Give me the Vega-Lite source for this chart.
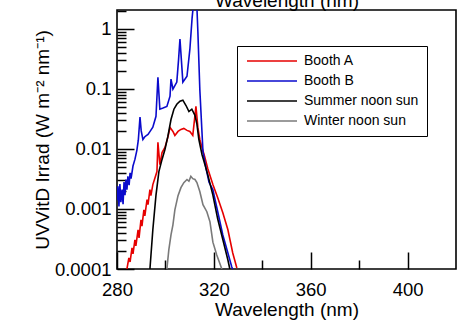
{
  "$schema": "https://vega.github.io/schema/vega-lite/v6.json",
  "width": 339,
  "height": 259,
  "autosize": {"type": "none"},
  "padding": {"left": 117, "top": 10, "right": 17, "bottom": 57},
  "background": "white",
  "config": {
    "view": {"stroke": "black", "strokeWidth": 1.6},
    "font": "Liberation Sans",
    "axis": {"grid": false, "domain": false, "tickColor": "black", "tickWidth": 1.5, "labelColor": "black", "titleColor": "black", "titleFontWeight": "normal", "labelFont": "Liberation Sans", "titleFont": "Liberation Sans"}
  },
  "data": {"values": [
    {"s": "Booth A", "w": 284.1, "v": 0.0001},
    {"s": "Booth A", "w": 284.9, "v": 0.000153},
    {"s": "Booth A", "w": 285.4, "v": 0.000131},
    {"s": "Booth A", "w": 286.2, "v": 0.000224},
    {"s": "Booth A", "w": 286.6, "v": 0.000178},
    {"s": "Booth A", "w": 287.4, "v": 0.000305},
    {"s": "Booth A", "w": 287.8, "v": 0.000243},
    {"s": "Booth A", "w": 288.7, "v": 0.00045},
    {"s": "Booth A", "w": 289.1, "v": 0.00033},
    {"s": "Booth A", "w": 289.9, "v": 0.00066},
    {"s": "Booth A", "w": 290.3, "v": 0.00052},
    {"s": "Booth A", "w": 291.1, "v": 0.00097},
    {"s": "Booth A", "w": 291.5, "v": 0.00077},
    {"s": "Booth A", "w": 292.4, "v": 0.00143},
    {"s": "Booth A", "w": 292.8, "v": 0.00118},
    {"s": "Booth A", "w": 293.6, "v": 0.0021},
    {"s": "Booth A", "w": 294.0, "v": 0.00167},
    {"s": "Booth A", "w": 294.8, "v": 0.00255},
    {"s": "Booth A", "w": 295.7, "v": 0.00333},
    {"s": "Booth A", "w": 296.5, "v": 0.0042},
    {"s": "Booth A", "w": 296.9, "v": 0.0129},
    {"s": "Booth A", "w": 297.7, "v": 0.0055},
    {"s": "Booth A", "w": 298.6, "v": 0.0087},
    {"s": "Booth A", "w": 299.8, "v": 0.0106},
    {"s": "Booth A", "w": 301.0, "v": 0.0156},
    {"s": "Booth A", "w": 301.9, "v": 0.0229},
    {"s": "Booth A", "w": 303.1, "v": 0.0196},
    {"s": "Booth A", "w": 303.9, "v": 0.0168},
    {"s": "Booth A", "w": 305.2, "v": 0.0196},
    {"s": "Booth A", "w": 306.4, "v": 0.0212},
    {"s": "Booth A", "w": 307.6, "v": 0.022},
    {"s": "Booth A", "w": 308.9, "v": 0.0204},
    {"s": "Booth A", "w": 310.1, "v": 0.0196},
    {"s": "Booth A", "w": 311.3, "v": 0.0168},
    {"s": "Booth A", "w": 312.6, "v": 0.0514},
    {"s": "Booth A", "w": 313.4, "v": 0.0229},
    {"s": "Booth A", "w": 314.2, "v": 0.0144},
    {"s": "Booth A", "w": 315.1, "v": 0.0106},
    {"s": "Booth A", "w": 316.3, "v": 0.0072},
    {"s": "Booth A", "w": 317.5, "v": 0.0047},
    {"s": "Booth A", "w": 319.6, "v": 0.00255},
    {"s": "Booth A", "w": 321.6, "v": 0.00154},
    {"s": "Booth A", "w": 323.7, "v": 0.000865},
    {"s": "Booth A", "w": 325.8, "v": 0.00045},
    {"s": "Booth A", "w": 327.8, "v": 0.000185},
    {"s": "Booth A", "w": 329.5, "v": 0.000104},
    {"s": "Booth B", "w": 280.0, "v": 0.0014},
    {"s": "Booth B", "w": 280.4, "v": 0.0024},
    {"s": "Booth B", "w": 280.8, "v": 0.0011},
    {"s": "Booth B", "w": 281.2, "v": 0.0026},
    {"s": "Booth B", "w": 281.6, "v": 0.0013},
    {"s": "Booth B", "w": 282.1, "v": 0.0021},
    {"s": "Booth B", "w": 282.5, "v": 0.0012},
    {"s": "Booth B", "w": 282.9, "v": 0.0028},
    {"s": "Booth B", "w": 283.3, "v": 0.0017},
    {"s": "Booth B", "w": 283.7, "v": 0.0031},
    {"s": "Booth B", "w": 284.1, "v": 0.0021},
    {"s": "Booth B", "w": 284.5, "v": 0.0035},
    {"s": "Booth B", "w": 285.0, "v": 0.0025},
    {"s": "Booth B", "w": 285.4, "v": 0.004},
    {"s": "Booth B", "w": 285.8, "v": 0.0032},
    {"s": "Booth B", "w": 286.6, "v": 0.0052},
    {"s": "Booth B", "w": 287.4, "v": 0.0067},
    {"s": "Booth B", "w": 288.2, "v": 0.0095},
    {"s": "Booth B", "w": 288.8, "v": 0.014},
    {"s": "Booth B", "w": 289.5, "v": 0.034},
    {"s": "Booth B", "w": 290.0, "v": 0.02},
    {"s": "Booth B", "w": 290.7, "v": 0.0144},
    {"s": "Booth B", "w": 291.5, "v": 0.016},
    {"s": "Booth B", "w": 292.8, "v": 0.0175},
    {"s": "Booth B", "w": 293.8, "v": 0.02},
    {"s": "Booth B", "w": 294.8, "v": 0.023},
    {"s": "Booth B", "w": 296.1, "v": 0.035},
    {"s": "Booth B", "w": 296.9, "v": 0.157},
    {"s": "Booth B", "w": 297.7, "v": 0.046},
    {"s": "Booth B", "w": 299.0, "v": 0.048},
    {"s": "Booth B", "w": 300.6, "v": 0.051},
    {"s": "Booth B", "w": 301.9, "v": 0.076},
    {"s": "Booth B", "w": 302.3, "v": 0.146},
    {"s": "Booth B", "w": 303.1, "v": 0.099},
    {"s": "Booth B", "w": 304.7, "v": 0.13},
    {"s": "Booth B", "w": 305.4, "v": 0.3},
    {"s": "Booth B", "w": 306.0, "v": 0.68},
    {"s": "Booth B", "w": 306.6, "v": 0.3},
    {"s": "Booth B", "w": 307.2, "v": 0.13},
    {"s": "Booth B", "w": 308.9, "v": 0.163},
    {"s": "Booth B", "w": 310.1, "v": 0.46},
    {"s": "Booth B", "w": 311.0, "v": 1.5},
    {"s": "Booth B", "w": 311.8, "v": 3.2},
    {"s": "Booth B", "w": 312.6, "v": 2.8},
    {"s": "Booth B", "w": 313.0, "v": 2.3},
    {"s": "Booth B", "w": 313.4, "v": 0.9},
    {"s": "Booth B", "w": 314.2, "v": 0.099},
    {"s": "Booth B", "w": 315.5, "v": 0.0091},
    {"s": "Booth B", "w": 316.7, "v": 0.0049},
    {"s": "Booth B", "w": 318.0, "v": 0.0028},
    {"s": "Booth B", "w": 319.6, "v": 0.0021},
    {"s": "Booth B", "w": 321.6, "v": 0.0009},
    {"s": "Booth B", "w": 323.7, "v": 0.00037},
    {"s": "Booth B", "w": 325.8, "v": 0.000185},
    {"s": "Booth B", "w": 327.4, "v": 0.000108},
    {"s": "Booth B", "w": 327.8, "v": 0.0001},
    {"s": "Summer noon sun", "w": 293.6, "v": 0.0001},
    {"s": "Summer noon sun", "w": 294.8, "v": 0.00045},
    {"s": "Summer noon sun", "w": 296.1, "v": 0.0017},
    {"s": "Summer noon sun", "w": 297.3, "v": 0.0042},
    {"s": "Summer noon sun", "w": 298.6, "v": 0.0067},
    {"s": "Summer noon sun", "w": 299.8, "v": 0.0098},
    {"s": "Summer noon sun", "w": 301.0, "v": 0.0162},
    {"s": "Summer noon sun", "w": 302.3, "v": 0.031},
    {"s": "Summer noon sun", "w": 303.5, "v": 0.046},
    {"s": "Summer noon sun", "w": 304.7, "v": 0.0556},
    {"s": "Summer noon sun", "w": 306.0, "v": 0.0626},
    {"s": "Summer noon sun", "w": 307.2, "v": 0.065},
    {"s": "Summer noon sun", "w": 308.5, "v": 0.053},
    {"s": "Summer noon sun", "w": 309.7, "v": 0.042},
    {"s": "Summer noon sun", "w": 310.9, "v": 0.046},
    {"s": "Summer noon sun", "w": 312.2, "v": 0.0364},
    {"s": "Summer noon sun", "w": 313.0, "v": 0.026},
    {"s": "Summer noon sun", "w": 313.8, "v": 0.0144},
    {"s": "Summer noon sun", "w": 315.1, "v": 0.0081},
    {"s": "Summer noon sun", "w": 316.3, "v": 0.0055},
    {"s": "Summer noon sun", "w": 317.5, "v": 0.0037},
    {"s": "Summer noon sun", "w": 319.6, "v": 0.0017},
    {"s": "Summer noon sun", "w": 321.6, "v": 0.00068},
    {"s": "Summer noon sun", "w": 323.7, "v": 0.00031},
    {"s": "Summer noon sun", "w": 325.8, "v": 0.000141},
    {"s": "Summer noon sun", "w": 326.6, "v": 0.0001},
    {"s": "Winter noon sun", "w": 300.6, "v": 0.0001},
    {"s": "Winter noon sun", "w": 301.4, "v": 0.000208},
    {"s": "Winter noon sun", "w": 302.3, "v": 0.00037},
    {"s": "Winter noon sun", "w": 303.1, "v": 0.000545},
    {"s": "Winter noon sun", "w": 303.9, "v": 0.00097},
    {"s": "Winter noon sun", "w": 305.2, "v": 0.00167},
    {"s": "Winter noon sun", "w": 306.4, "v": 0.00227},
    {"s": "Winter noon sun", "w": 307.6, "v": 0.00275},
    {"s": "Winter noon sun", "w": 308.9, "v": 0.0031},
    {"s": "Winter noon sun", "w": 309.7, "v": 0.0029},
    {"s": "Winter noon sun", "w": 310.5, "v": 0.0035},
    {"s": "Winter noon sun", "w": 311.3, "v": 0.0032},
    {"s": "Winter noon sun", "w": 312.2, "v": 0.0031},
    {"s": "Winter noon sun", "w": 313.0, "v": 0.00275},
    {"s": "Winter noon sun", "w": 314.2, "v": 0.00195},
    {"s": "Winter noon sun", "w": 315.5, "v": 0.00118},
    {"s": "Winter noon sun", "w": 317.1, "v": 0.0009},
    {"s": "Winter noon sun", "w": 318.4, "v": 0.00061},
    {"s": "Winter noon sun", "w": 319.6, "v": 0.00028},
    {"s": "Winter noon sun", "w": 321.2, "v": 0.000171},
    {"s": "Winter noon sun", "w": 323.3, "v": 0.0001}
  ]},
  "layer": [
    {
      "mark": {"type": "line", "clip": true, "strokeWidth": 1.6},
      "encoding": {
        "x": {"field": "w", "type": "quantitative", "scale": {"domain": [280, 420], "nice": false, "zero": false},
          "axis": {"orient": "bottom", "values": [280, 320, 360, 400], "ticks": false, "labelFontSize": 18.5, "labelPadding": 11, "labelFlush": false, "labelOverlap": false, "title": "Wavelength (nm)", "titleFontSize": 19, "titlePadding": 2}},
        "y": {"field": "v", "type": "quantitative", "scale": {"type": "log", "domain": [0.0001, 2.07], "nice": false},
          "axis": {"orient": "left", "values": [0.0001, 0.001, 0.01, 0.1, 1], "format": "~g", "ticks": false, "labelFontSize": 18.5, "labelPadding": 6, "labelFlush": false, "labelOverlap": false, "title": "UVVitD Irrad (W m⁻² nm⁻¹)", "titleFontSize": 19, "titlePadding": 2}},
        "color": {"field": "s", "type": "nominal",
          "scale": {"domain": ["Booth A", "Booth B", "Summer noon sun", "Winter noon sun"], "range": ["#e60000", "#0a0acc", "#000000", "#7a7a7a"]},
          "legend": {"title": null, "orient": "none", "legendX": 120, "legendY": 36, "strokeColor": "black", "fillColor": "white", "padding": 8, "symbolType": "M-5,0H5", "symbolSize": 100, "symbolStrokeWidth": 1.6, "symbolOffset": 20, "labelOffset": 25, "labelFontSize": 14, "labelFont": "Liberation Sans", "labelColor": "black", "rowPadding": 6}}
      }
    },
    {
      "mark": {"type": "point", "opacity": 0},
      "encoding": {
        "x": {"field": "w", "type": "quantitative", "scale": {"domain": [280, 420], "nice": false, "zero": false},
          "axis": {"orient": "bottom", "values": [280, 320, 360, 400], "labels": false, "tickSize": -17, "title": null}},
        "y": {"field": "v", "type": "quantitative", "scale": {"type": "log", "domain": [0.0001, 2.07], "nice": false},
          "axis": {"orient": "left", "values": [0.0001, 0.001, 0.01, 0.1, 1], "labels": false, "tickSize": -17, "title": null}}
      }
    },
    {
      "mark": {"type": "point", "opacity": 0},
      "encoding": {
        "x": {"field": "w", "type": "quantitative", "scale": {"domain": [280, 420], "nice": false, "zero": false},
          "axis": {"orient": "bottom", "values": [300, 340, 380], "labels": false, "tickSize": -9, "title": null}},
        "y": {"field": "v", "type": "quantitative", "scale": {"type": "log", "domain": [0.0001, 2.07], "nice": false},
          "axis": {"orient": "left", "values": [0.0002, 0.0003, 0.0004, 0.0005, 0.0006, 0.0007, 0.0008, 0.0009, 0.002, 0.003, 0.004, 0.005, 0.006, 0.007, 0.008, 0.009, 0.02, 0.03, 0.04, 0.05, 0.06, 0.07, 0.08, 0.09, 0.2, 0.3, 0.4, 0.5, 0.6, 0.7, 0.8, 0.9, 2], "labels": false, "tickSize": -9, "title": null}}
      }
    },
    {
      "mark": {"type": "point", "opacity": 0},
      "encoding": {
        "x": {"field": "w", "type": "quantitative", "scale": {"domain": [280, 420], "nice": false, "zero": false},
          "axis": {"orient": "top", "labels": false, "ticks": false, "title": "Wavelength (nm)", "titleFontSize": 19, "titlePadding": 0}},
        "y": {"field": "v", "type": "quantitative", "scale": {"type": "log", "domain": [0.0001, 2.07], "nice": false}, "axis": null}
      }
    }
  ],
  "resolve": {"axis": {"x": "independent", "y": "independent"}}
}
